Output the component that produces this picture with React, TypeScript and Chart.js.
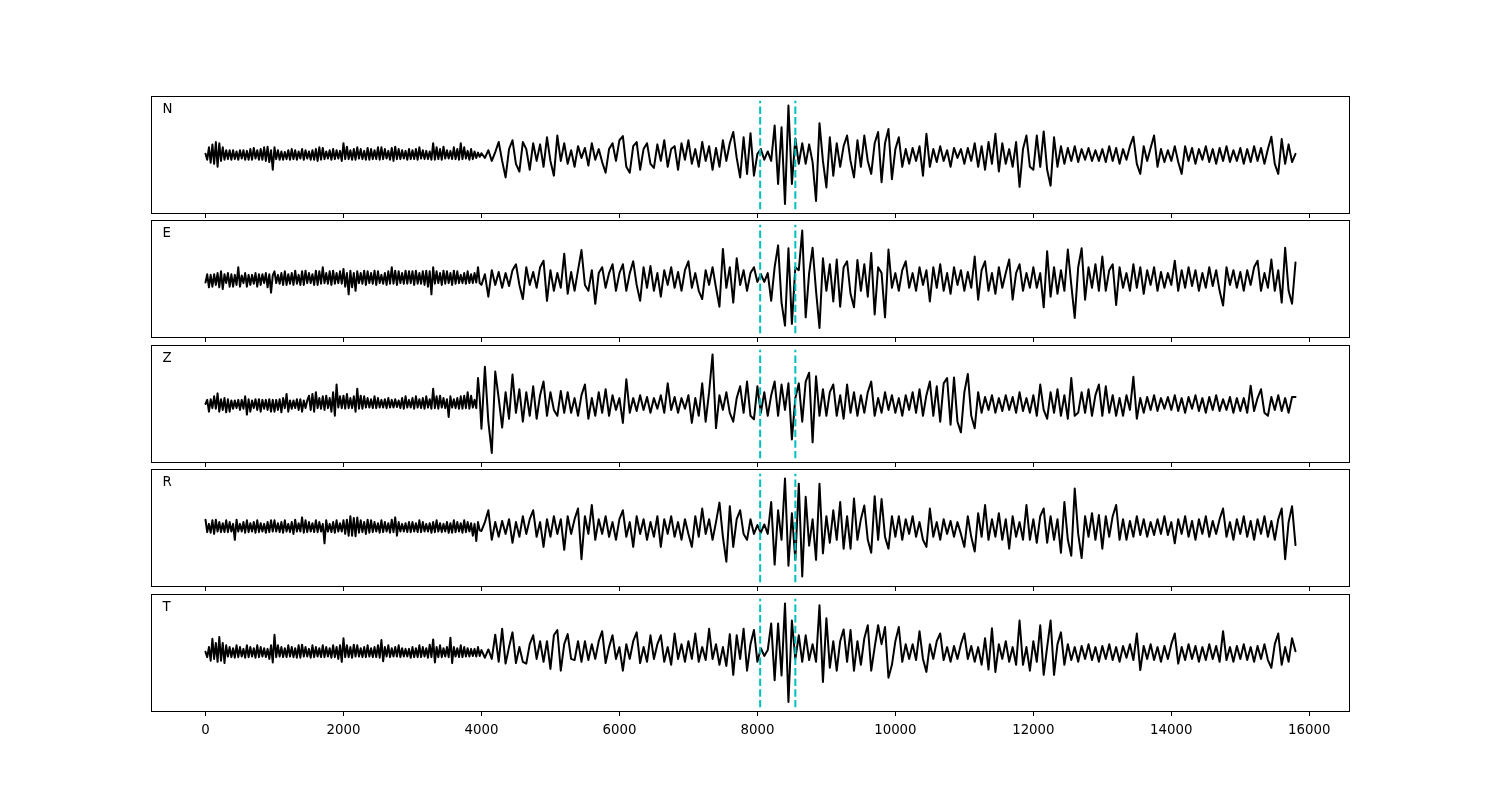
import React, { useEffect, useRef } from "react";
import { Chart, registerables } from "chart.js";

Chart.register(...registerables);

// Each trace is read in two stretches: the quiet start (fine step) and the rest.
const EARLY_START = 0;
const EARLY_STEP = 25;
const LATE_START = 4000;
const LATE_STEP = 50;
const X_MIN = -790;
const X_MAX = 16590;
const X_TICKS = [0, 2000, 4000, 6000, 8000, 10000, 12000, 14000, 16000];
const PICKS = [8040, 8550];
const PICK_SPAN = 0.92;
const COMPONENTS = ["N", "E", "Z", "R", "T"];

// ---------- N ----------
const N_EARLY = [
  0.02,-0.08,0.13,-0.13,0.18,-0.15,0.22,-0.2,0.2,-0.1,0.13,-0.08,0.08,-0.07,0.08,-0.08,0.08,-0.07,0.06,-0.08,
  0.08,-0.06,0.08,-0.08,0.07,-0.08,0.1,-0.08,0.12,-0.06,0.08,-0.08,0.1,-0.08,0.13,-0.1,0.14,-0.12,0.08,-0.25,
  0.13,-0.07,0.08,-0.08,0.06,-0.08,0.05,-0.07,0.08,-0.08,0.1,-0.07,0.08,-0.08,0.06,-0.06,0.1,-0.08,0.08,-0.06,
  0.06,-0.08,0.08,-0.08,0.1,-0.1,0.13,-0.08,0.12,-0.07,0.06,-0.06,0.08,-0.08,0.1,-0.07,0.08,-0.06,0.07,-0.1,
  0.2,-0.07,0.14,-0.07,0.08,-0.08,0.1,-0.08,0.13,-0.06,0.1,-0.07,0.07,-0.08,0.12,-0.08,0.1,-0.07,0.08,-0.07,
  0.13,-0.08,0.13,-0.07,0.1,-0.06,0.07,-0.08,0.12,-0.1,0.14,-0.07,0.1,-0.07,0.08,-0.06,0.07,-0.08,0.1,-0.07,
  0.08,-0.07,0.1,-0.08,0.13,-0.06,0.08,-0.07,0.07,-0.07,0.06,-0.08,0.2,-0.08,0.13,-0.07,0.1,-0.08,0.14,-0.06,
  0.08,-0.06,0.07,-0.07,0.13,-0.07,0.1,-0.08,0.2,-0.07,0.13,-0.06,0.07,-0.08,0.1,-0.07,0.06,-0.05,0.04,-0.03,
];
const N_LATE = [
  0.03,-0.05,0.08,-0.1,0.05,0.22,-0.1,-0.38,0.1,0.25,-0.15,-0.28,0.22,0.1,-0.25,0.2,-0.1,0.18,-0.2,0.3,
  -0.1,-0.35,0.33,-0.1,0.2,-0.15,0.08,-0.2,0.15,-0.05,0.12,-0.18,0.2,-0.08,0.1,-0.12,-0.3,0.1,0.2,-0.1,
  0.25,0.32,-0.2,-0.3,0.15,0.22,-0.25,0.1,0.2,-0.15,-0.22,0.18,-0.1,0.25,-0.2,0.1,0.15,-0.25,0.2,-0.08,
  0.25,-0.15,0.1,-0.2,0.22,-0.1,0.15,-0.25,0.12,-0.2,0.25,-0.1,0.2,0.39,-0.05,-0.38,0.3,-0.32,0.37,-0.35,
  0.02,0.1,-0.08,0.06,-0.1,0.5,-0.49,0.47,-0.83,0.84,-0.49,0.28,-0.15,0.2,-0.15,0.18,-0.12,-0.78,0.54,-0.1,
  -0.55,0.3,-0.35,0.2,-0.2,0.15,0.33,-0.1,-0.38,0.25,-0.2,0.33,-0.1,-0.32,0.2,0.39,-0.46,0.2,0.44,-0.41,
  0.1,0.3,-0.2,0.1,-0.15,0.12,-0.1,0.15,-0.35,0.36,-0.2,0.1,-0.12,0.15,-0.1,0.08,-0.2,0.12,-0.05,0.1,
  -0.15,0.12,-0.1,0.2,-0.2,0.15,-0.25,0.22,-0.15,0.36,-0.28,0.2,-0.15,0.1,-0.2,0.22,-0.54,0.1,0.33,-0.2,
  -0.25,0.33,-0.2,0.4,-0.25,-0.52,0.3,-0.2,0.15,-0.15,0.12,-0.1,0.15,-0.12,0.1,-0.08,0.12,-0.1,0.08,-0.1,
  0.1,-0.12,0.15,-0.1,0.12,-0.15,0.1,-0.08,0.15,0.31,-0.15,-0.32,0.15,-0.1,0.12,0.33,-0.2,0.1,-0.12,0.08,
  -0.1,0.15,-0.12,-0.32,0.15,-0.1,0.12,-0.15,0.1,-0.08,0.15,-0.12,0.1,-0.15,0.12,-0.1,0.15,-0.12,0.08,-0.1,
  0.12,-0.15,0.1,-0.12,0.15,-0.1,0.12,-0.15,0.1,0.31,-0.15,-0.32,0.27,-0.15,0.18,-0.12,0.02,
];

// ---------- E ----------
const E_EARLY = [
  -0.06,0.08,-0.14,0.07,-0.13,0.08,-0.1,0.1,-0.14,0.13,-0.17,0.08,-0.07,0.1,-0.13,0.08,-0.13,0.07,-0.1,0.2,
  -0.13,0.06,-0.07,0.1,-0.13,0.07,-0.1,0.07,-0.08,0.1,-0.13,0.08,-0.1,0.08,-0.07,0.1,-0.14,0.08,-0.23,0.06,
  0.13,-0.07,0.07,-0.08,0.1,-0.1,0.13,-0.1,0.08,-0.08,0.1,-0.1,0.14,-0.08,0.07,-0.1,0.13,-0.1,0.14,-0.07,
  0.1,-0.07,0.08,-0.1,0.14,-0.1,0.13,-0.08,0.2,-0.07,0.1,-0.08,0.13,-0.1,0.14,-0.08,0.1,-0.07,0.13,-0.08,
  0.17,-0.13,0.1,-0.26,0.14,-0.14,0.1,-0.2,0.13,-0.07,0.1,-0.08,0.14,-0.1,0.13,-0.07,0.1,-0.08,0.14,-0.1,
  0.13,-0.07,0.07,-0.08,0.1,-0.1,0.13,-0.08,0.2,-0.08,0.14,-0.1,0.13,-0.07,0.1,-0.08,0.14,-0.08,0.13,-0.07,
  0.13,-0.1,0.14,-0.08,0.1,-0.08,0.13,-0.1,0.14,-0.13,0.13,-0.26,0.2,-0.08,0.13,-0.07,0.1,-0.1,0.14,-0.08,
  0.13,-0.07,0.1,-0.1,0.14,-0.08,0.13,-0.07,0.07,-0.07,0.1,-0.08,0.13,-0.07,0.08,-0.07,0.1,-0.06,0.2,-0.07,
];
const E_LATE = [
  -0.1,0.08,-0.3,0.15,-0.1,0.12,-0.15,0.1,-0.12,0.15,0.25,-0.1,-0.34,0.2,-0.1,0.12,-0.15,0.2,0.31,-0.37,
  0.15,-0.2,0.1,-0.15,0.43,-0.25,0.12,-0.2,0.15,0.49,-0.1,-0.2,0.15,-0.42,0.1,0.2,-0.15,0.1,0.25,-0.2,
  0.1,0.25,-0.2,0.1,0.3,-0.1,-0.37,0.2,-0.15,0.22,-0.2,0.1,-0.3,0.15,-0.1,0.2,-0.15,0.12,-0.2,0.15,
  0.3,-0.15,0.1,-0.2,-0.34,0.15,-0.1,0.2,-0.15,-0.47,0.51,-0.15,0.2,-0.4,0.35,-0.1,0.15,-0.2,0.1,0.2,
  -0.05,0.08,-0.05,0.1,-0.37,0.2,0.57,-0.4,-0.79,0.52,-0.76,0.2,0.15,0.82,-0.65,0.1,0.53,-0.2,-0.83,0.35,
  -0.2,0.25,-0.38,0.33,-0.47,0.2,0.3,-0.25,-0.48,0.32,-0.2,0.25,-0.3,0.44,-0.6,0.2,0.1,-0.65,0.5,-0.15,
  0.1,-0.2,0.15,0.3,-0.15,0.1,-0.2,0.2,-0.1,0.15,-0.38,0.2,-0.15,0.25,-0.2,0.1,-0.25,0.2,-0.1,0.15,
  -0.2,0.12,-0.15,0.38,-0.35,0.15,0.3,-0.2,0.1,-0.25,0.2,-0.15,0.1,0.33,-0.35,0.1,0.25,-0.2,0.1,-0.15,
  0.2,-0.15,0.1,-0.48,0.47,-0.3,0.2,-0.25,0.15,-0.2,0.5,-0.1,-0.66,0.2,0.52,-0.35,0.2,-0.15,0.25,-0.2,
  0.38,-0.2,0.15,0.25,-0.44,0.2,-0.15,0.1,-0.2,0.25,-0.15,0.2,-0.25,0.15,-0.1,0.2,-0.2,0.12,-0.15,0.1,
  -0.1,0.31,-0.2,0.15,-0.15,0.2,-0.12,0.15,-0.2,0.1,-0.15,0.2,-0.12,0.15,-0.2,-0.45,0.2,-0.1,0.15,-0.15,
  0.12,-0.2,0.15,-0.1,0.2,0.31,-0.2,0.1,-0.15,0.33,-0.2,0.15,-0.4,0.53,-0.2,-0.42,0.28,
];

// ---------- Z ----------
const Z_EARLY = [
  0,0.07,-0.13,0.08,-0.07,0.13,-0.08,0.18,-0.13,0.08,-0.1,0.1,-0.14,0.08,-0.13,0.06,-0.08,0.06,-0.07,0.07,
  -0.1,0.07,-0.08,0.13,-0.18,0.08,-0.13,0.06,-0.07,0.08,-0.1,0.08,-0.13,0.07,-0.08,0.07,-0.1,0.08,-0.13,0.07,
  -0.13,0.07,-0.1,0.08,-0.14,0.1,-0.07,0.17,-0.13,0.06,-0.08,0.06,-0.07,0.08,-0.1,0.08,-0.13,0.06,-0.07,0.06,
  0.14,-0.1,0.17,-0.13,0.2,-0.07,0.1,-0.08,0.13,-0.1,0.14,-0.07,0.1,-0.13,0.2,-0.2,0.33,-0.06,0.13,-0.07,
  0.14,-0.08,0.17,-0.07,0.1,-0.07,0.13,-0.13,0.26,-0.08,0.14,-0.08,0.13,-0.06,0.1,-0.06,0.08,-0.07,0.13,-0.07,
  0.1,-0.06,0.07,-0.06,0.08,-0.07,0.1,-0.06,0.07,-0.06,0.08,-0.05,0.06,-0.07,0.1,-0.08,0.13,-0.06,0.07,-0.06,
  0.1,-0.08,0.13,-0.06,0.08,-0.07,0.1,-0.08,0.13,-0.06,0.08,-0.08,0.26,-0.07,0.13,-0.08,0.14,-0.06,0.1,-0.07,
  0.08,-0.22,0.13,-0.06,0.08,-0.07,0.1,-0.08,0.13,-0.08,0.14,-0.07,0.2,-0.08,0.14,-0.06,0.07,-0.07,0.44,0.1,
];
const Z_LATE = [
  -0.42,0.63,-0.3,-0.83,0.55,0.1,-0.4,0.2,-0.25,0.5,-0.15,0.25,-0.3,0.2,-0.2,0.3,-0.25,0.15,0.38,-0.2,
  0.2,-0.1,-0.2,0.22,-0.15,0.2,-0.15,0.1,-0.2,0.15,0.33,-0.25,0.1,-0.2,0.2,-0.15,0.25,-0.2,0.15,-0.1,
  0.1,-0.32,0.42,-0.15,0.1,-0.12,0.15,-0.1,0.12,-0.15,0.1,-0.08,0.15,-0.15,0.35,-0.1,0.12,-0.15,0.1,-0.08,
  0.15,-0.32,0.1,-0.2,0.35,-0.3,0.2,0.84,-0.41,0.15,-0.1,0.2,-0.15,-0.3,0.1,0.3,-0.15,0.38,-0.2,-0.26,
  0.3,-0.15,0.2,-0.2,0.15,0.38,-0.2,0.33,-0.1,0.35,-0.6,0.1,0.35,-0.3,0.38,0.53,-0.65,0.47,-0.2,0.25,
  -0.2,0.2,0.33,-0.2,0.15,-0.25,0.33,-0.15,0.2,-0.2,0.15,-0.15,0.2,0.38,-0.2,0.1,-0.15,0.2,-0.1,0.15,
  -0.15,0.1,-0.2,0.15,-0.1,0.2,-0.15,0.25,-0.2,0.15,0.38,-0.2,0.3,-0.3,0.35,0.44,-0.35,0.45,-0.3,-0.48,
  0.2,0.51,-0.2,-0.41,0.2,-0.15,0.12,-0.1,0.15,-0.15,0.1,-0.12,0.15,-0.1,0.12,-0.15,0.2,-0.12,0.1,-0.15,
  0.15,-0.2,0.33,-0.1,-0.25,0.2,-0.15,0.25,-0.2,0.15,-0.25,0.44,-0.2,-0.15,0.2,-0.15,0.25,-0.2,0.15,0.33,
  -0.2,0.3,-0.15,0.15,-0.2,0.1,-0.2,0.15,-0.1,0.46,-0.25,0.1,-0.15,0.12,-0.1,0.15,-0.12,0.1,-0.08,0.12,
  -0.1,0.15,-0.12,0.1,-0.15,0.12,-0.08,0.15,-0.12,0.1,-0.15,0.12,-0.1,0.15,-0.12,0.08,-0.1,0.12,-0.15,0.1,
  -0.12,0.1,-0.15,0.31,-0.12,0.1,0.25,-0.15,-0.2,0.12,-0.1,0.15,-0.12,0.1,-0.15,0.12,0.12,
];

// ---------- R ----------
const R_EARLY = [
  0.14,-0.07,0.07,-0.08,0.13,-0.1,0.14,-0.06,0.1,-0.07,0.08,-0.07,0.13,-0.07,0.1,-0.06,0.07,-0.2,0.14,-0.06,
  0.07,-0.06,0.1,-0.08,0.13,-0.07,0.08,-0.06,0.1,-0.08,0.13,-0.07,0.08,-0.06,0.07,-0.08,0.1,-0.07,0.13,-0.06,
  0.13,-0.06,0.08,-0.07,0.1,-0.08,0.13,-0.06,0.07,-0.07,0.1,-0.1,0.14,-0.06,0.08,-0.06,0.18,-0.08,0.13,-0.07,
  0.1,-0.06,0.08,-0.07,0.13,-0.07,0.1,-0.06,0.07,-0.26,0.13,-0.06,0.07,-0.07,0.1,-0.08,0.13,-0.06,0.08,-0.06,
  0.13,-0.1,0.14,-0.13,0.2,-0.13,0.17,-0.14,0.18,-0.08,0.13,-0.07,0.1,-0.1,0.14,-0.08,0.13,-0.07,0.1,-0.06,
  0.08,-0.08,0.13,-0.07,0.1,-0.06,0.08,-0.08,0.14,-0.07,0.18,-0.13,0.1,-0.06,0.07,-0.06,0.08,-0.07,0.1,-0.07,
  0.1,-0.06,0.08,-0.07,0.13,-0.07,0.1,-0.06,0.07,-0.06,0.08,-0.08,0.1,-0.07,0.13,-0.06,0.08,-0.07,0.07,-0.06,
  0.1,-0.08,0.08,-0.08,0.13,-0.07,0.1,-0.06,0.08,-0.08,0.13,-0.07,0.1,-0.06,0.08,-0.13,0.07,-0.22,0.1,-0.04,
];
const R_LATE = [
  -0.05,0.1,0.3,-0.2,0.1,-0.15,0.12,-0.1,0.15,-0.25,0.1,-0.15,0.2,-0.1,0.15,0.3,-0.15,0.1,-0.32,0.15,
  -0.15,0.2,-0.1,0.15,-0.37,0.2,-0.1,0.15,0.33,-0.53,0.2,-0.1,0.39,-0.2,0.15,-0.1,0.2,-0.15,0.1,-0.2,
  0.15,0.3,-0.15,0.1,-0.32,0.2,-0.1,0.15,-0.2,0.1,-0.15,0.2,-0.32,0.15,-0.1,0.2,-0.15,0.1,-0.2,0.15,
  -0.1,-0.32,0.2,-0.15,0.33,-0.1,0.15,-0.2,0.1,0.43,-0.15,-0.57,0.37,-0.32,0.15,0.3,-0.1,-0.2,0.15,-0.1,
  0.05,-0.08,0.06,-0.1,0.44,-0.62,0.3,-0.2,0.84,-0.64,0.25,-0.54,0.75,-0.82,0.53,-0.3,0.15,-0.54,0.75,-0.43,
  0.2,-0.25,0.3,-0.2,0.44,-0.35,0.2,-0.35,0.5,-0.2,0.15,0.38,-0.2,-0.42,0.54,-0.2,0.49,-0.15,-0.35,0.2,
  -0.15,0.2,-0.2,0.15,-0.1,0.2,-0.15,0.1,-0.2,-0.32,0.33,-0.15,0.1,-0.2,0.15,-0.1,0.12,-0.15,0.1,-0.1,
  -0.32,0.2,-0.15,-0.4,0.25,-0.15,0.39,-0.2,0.15,-0.15,0.25,-0.2,0.15,-0.35,0.2,-0.15,0.1,-0.2,0.39,-0.2,
  0.15,-0.25,0.2,0.33,-0.25,0.2,-0.2,0.15,-0.42,0.44,-0.2,-0.47,0.67,-0.1,-0.51,0.2,-0.15,0.25,-0.2,0.22,
  -0.35,0.2,-0.15,0.2,0.39,-0.2,0.15,-0.2,0.12,-0.15,0.2,-0.12,0.15,-0.15,0.1,-0.12,0.15,-0.1,0.2,-0.12,
  0.1,-0.26,0.15,-0.1,0.2,-0.15,0.12,-0.2,0.15,-0.1,0.2,-0.15,0.12,-0.1,0.15,0.33,-0.15,0.1,-0.2,0.15,
  -0.1,0.2,-0.15,0.12,-0.2,0.15,-0.1,0.2,-0.15,0.12,-0.2,0.15,0.33,-0.53,0.1,0.37,-0.29,
];

// ---------- T ----------
const T_EARLY = [
  0.02,-0.07,0.1,-0.13,0.24,-0.1,0.17,-0.15,0.27,-0.13,0.17,-0.17,0.13,-0.06,0.1,-0.07,0.08,-0.08,0.13,-0.07,
  0.1,-0.06,0.07,-0.08,0.13,-0.07,0.1,-0.06,0.08,-0.08,0.13,-0.07,0.1,-0.06,0.08,-0.07,0.07,-0.1,0.13,-0.16,
  0.31,-0.07,0.13,-0.06,0.1,-0.07,0.08,-0.07,0.13,-0.06,0.1,-0.07,0.08,-0.08,0.13,-0.08,0.14,-0.06,0.1,-0.06,
  0.07,-0.08,0.13,-0.07,0.1,-0.06,0.08,-0.07,0.13,-0.07,0.1,-0.06,0.08,-0.08,0.13,-0.07,0.1,-0.1,0.13,-0.15,
  0.25,-0.07,0.13,-0.07,0.1,-0.08,0.14,-0.06,0.13,-0.06,0.08,-0.07,0.1,-0.07,0.13,-0.06,0.08,-0.07,0.1,-0.07,
  0.13,-0.08,0.22,-0.14,0.1,-0.06,0.13,-0.07,0.08,-0.06,0.1,-0.06,0.13,-0.07,0.08,-0.06,0.07,-0.06,0.07,-0.08,
  0.1,-0.07,0.08,-0.07,0.13,-0.07,0.1,-0.06,0.08,-0.08,0.14,-0.07,0.23,-0.16,0.1,-0.07,0.13,-0.07,0.08,-0.06,
  0.1,-0.07,0.26,-0.17,0.1,-0.06,0.08,-0.07,0.13,-0.07,0.1,-0.06,0.08,-0.06,0.07,-0.05,0.07,-0.06,0.1,-0.05,
];
const T_LATE = [
  0.05,-0.08,0.06,-0.1,0.31,-0.15,0.41,-0.18,0.1,0.35,-0.17,0.1,-0.15,-0.18,0.15,0.3,-0.1,0.2,-0.15,0.2,
  -0.27,0.3,0.39,-0.3,0.15,0.32,-0.1,-0.12,0.2,-0.15,0.2,-0.12,0.15,-0.1,0.2,0.37,-0.17,0.1,0.3,-0.1,
  0.1,-0.3,0.15,-0.1,0.2,0.35,-0.17,0.1,-0.15,0.3,-0.1,0.15,0.3,-0.15,0.1,-0.2,0.33,-0.1,0.15,-0.15,
  0.2,-0.1,0.33,-0.15,0.1,-0.12,0.41,-0.1,0.15,-0.2,0.1,-0.22,0.32,-0.37,0.3,-0.1,0.41,-0.3,0.15,0.39,
  -0.15,0.08,-0.05,0.05,0.5,-0.46,0.5,-0.38,0.84,-0.83,0.55,-0.1,0.3,-0.15,0.3,-0.12,0.15,-0.15,0.81,-0.49,
  0.59,-0.25,0.2,-0.3,0.2,0.4,-0.15,0.39,-0.3,0.2,-0.2,0.25,0.47,-0.3,0.1,0.47,0.15,0.44,-0.42,-0.2,
  0.2,0.44,-0.15,0.15,-0.1,0.15,-0.12,0.37,-0.1,-0.32,0.15,-0.1,0.2,0.33,-0.12,0.1,-0.15,0.12,-0.1,0.15,
  0.33,-0.1,0.12,-0.15,0.1,-0.2,0.25,-0.28,0.42,-0.32,0.15,-0.1,0.2,-0.15,0.1,-0.2,0.55,-0.2,0.1,-0.3,
  0.2,-0.15,0.47,-0.37,0.1,0.55,-0.37,0.15,0.35,-0.2,0.15,-0.12,0.1,-0.15,0.12,-0.1,0.15,-0.12,0.1,-0.15,
  0.12,-0.1,0.15,-0.12,0.1,-0.15,0.12,-0.08,0.15,-0.12,0.33,-0.29,0.12,-0.1,0.15,-0.12,0.1,-0.15,0.12,-0.1,
  0.15,0.33,-0.18,0.1,-0.12,0.15,-0.1,0.12,-0.15,0.1,-0.12,0.15,-0.1,0.12,-0.15,0.37,-0.12,0.1,-0.15,0.12,
  -0.1,0.15,-0.12,0.1,-0.15,0.12,-0.1,0.15,-0.12,-0.25,0.15,0.33,-0.2,0.1,-0.15,0.25,0.03,
];

const EARLY = [N_EARLY, E_EARLY, Z_EARLY, R_EARLY, T_EARLY];
const LATE = [N_LATE, E_LATE, Z_LATE, R_LATE, T_LATE];

const FIG_W = 1500;
const FIG_H = 800;
const PANEL_TOPS = [96, 220, 345, 469, 594];
const PANEL_H = 118;
const AREA_LEFT = 151;
const AREA_RIGHT = 1350;
const PAD_TOP = 2;
const FONT = '"DejaVu Sans", "Liberation Sans", sans-serif';

function toPoints(values: number[], start: number, step: number) {
  return values.map((v, i) => ({ x: start + i * step, y: v }));
}

function Panel({ index }: { index: number }) {
  const ref = useRef<HTMLCanvasElement | null>(null);
  const isLast = index === COMPONENTS.length - 1;
  const axisH = isLast ? 34 : 4;
  const canvasH = PAD_TOP + PANEL_H + axisH;

  useEffect(() => {
    const trace = [
      ...toPoints(EARLY[index], EARLY_START, EARLY_STEP),
      ...toPoints(LATE[index], LATE_START, LATE_STEP),
    ];
    const datasets: any[] = [
      ...PICKS.map((p) => ({
        data: [
          { x: p, y: -PICK_SPAN },
          { x: p, y: PICK_SPAN },
        ],
        borderColor: "#00bfbf",
        borderWidth: 2,
        borderDash: [7.4, 3.2],
        showLine: true,
        pointRadius: 0,
        order: 0,
      })),
      {
        data: trace,
        borderColor: "#000000",
        borderWidth: 2,
        borderJoinStyle: "round",
        borderCapStyle: "round",
        showLine: true,
        pointRadius: 0,
        order: 1,
      },
    ];

    const framePlugin = {
      id: "frame" + index,
      afterDraw(chart: any) {
        const { ctx, chartArea: a } = chart;
        ctx.save();
        ctx.strokeStyle = "#000";
        ctx.lineWidth = 1;
        ctx.strokeRect(a.left + 0.5, a.top + 0.5, a.right - a.left - 1, a.bottom - a.top - 1);
        ctx.font = "13.33px " + FONT;
        ctx.fillStyle = "#000";
        ctx.textBaseline = "alphabetic";
        ctx.textAlign = "left";
        ctx.fillText(COMPONENTS[index], a.left + 11.5, a.top + 17);
        ctx.restore();
      },
    };

    const chart = new Chart(ref.current as HTMLCanvasElement, {
      type: "scatter",
      data: { datasets },
      options: {
        animation: false,
        responsive: false,
        devicePixelRatio: 1,
        events: [],
        layout: {
          padding: { left: AREA_LEFT, right: FIG_W - AREA_RIGHT, top: PAD_TOP, bottom: 0 },
        },
        plugins: { legend: { display: false }, tooltip: { enabled: false } },
        scales: {
          x: {
            type: "linear",
            min: X_MIN,
            max: X_MAX,
            afterBuildTicks: (s: any) => {
              s.ticks = X_TICKS.map((v) => ({ value: v }));
            },
            afterFit: (s: any) => {
              s.height = axisH;
            },
            grid: {
              drawOnChartArea: false,
              drawTicks: true,
              tickLength: 4,
              color: "#000",
              lineWidth: 1,
            },
            border: { display: false },
            ticks: {
              display: isLast,
              color: "#000",
              font: { family: FONT, size: 13.33 },
              padding: 7,
              maxRotation: 0,
              autoSkip: false,
              callback: (v: any) => String(v),
            },
          },
          y: { type: "linear", min: -1, max: 1, display: false },
        },
      } as any,
      plugins: [framePlugin],
    });
    return () => chart.destroy();
  }, [index]);

  return (
    <canvas
      ref={ref}
      width={FIG_W}
      height={canvasH}
      style={{
        position: "absolute",
        left: 0,
        top: PANEL_TOPS[index] - PAD_TOP,
        width: FIG_W,
        height: canvasH,
      }}
    />
  );
}

export default function App() {
  return (
    <div
      style={{
        position: "absolute",
        left: 0,
        top: 0,
        width: FIG_W,
        height: FIG_H,
        background: "#ffffff",
      }}
    >
      {COMPONENTS.map((c, i) => (
        <Panel key={c} index={i} />
      ))}
    </div>
  );
}
